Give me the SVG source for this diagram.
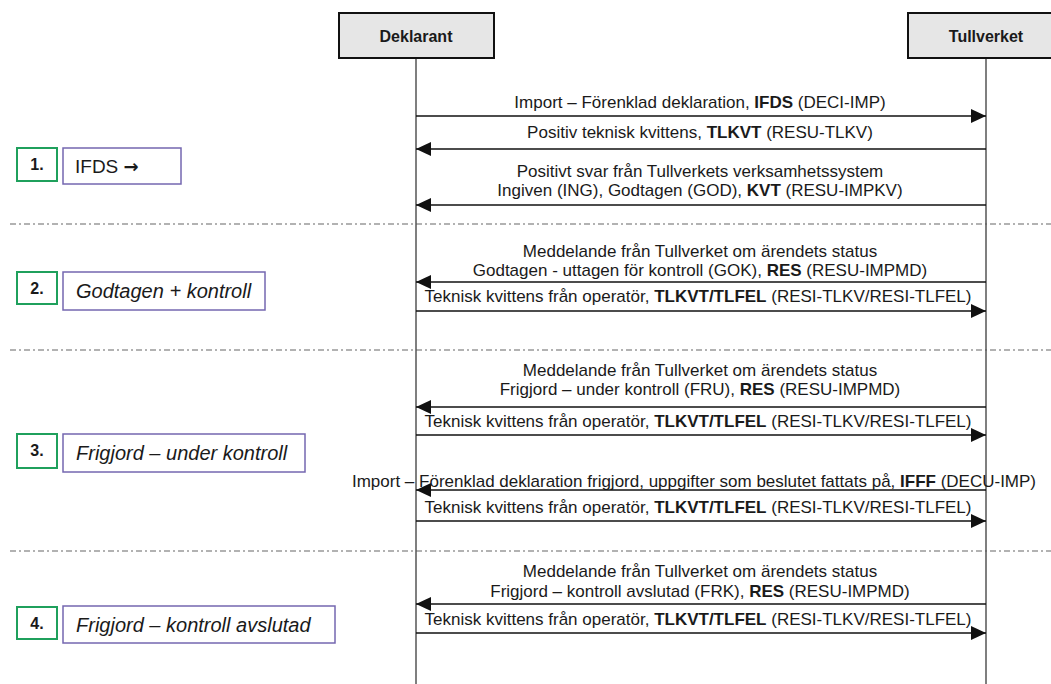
<svg xmlns="http://www.w3.org/2000/svg" width="1051" height="684" viewBox="0 0 1051 684">
<style>
.hdr{fill:#e6e6e6;stroke:#111;stroke-width:2}
.hdrt{font-family:"Liberation Sans",Arial,sans-serif;font-size:16px;font-weight:bold;fill:#1a1a1a;text-anchor:middle}
.life{stroke:#555;stroke-width:1.5;fill:none}
.msg{stroke:#111;stroke-width:1.5;fill:none}
.mt{font-family:"Liberation Sans",Arial,sans-serif;font-size:17px;fill:#1a1a1a;text-anchor:middle}
.b{font-weight:bold}
.sep{stroke:#666;stroke-width:1.2;stroke-dasharray:6 3 2 3;fill:none}
.num{fill:#fff;stroke:#1fa05c;stroke-width:2}
.numt{font-family:"Liberation Sans",Arial,sans-serif;font-size:16px;font-weight:bold;fill:#1a1a1a;text-anchor:middle}
.lbl{fill:#fff;stroke:#7467b0;stroke-width:1.5}
.lblt{font-family:"Liberation Sans",Arial,sans-serif;font-size:20px;font-style:italic;fill:#1a1a1a}
</style>
<defs>
<marker id="ah" markerWidth="15" markerHeight="14" refX="15" refY="7" orient="auto" markerUnits="userSpaceOnUse">
<path d="M0,0 L15,7 L0,14 Z" fill="#111"/>
</marker>
</defs>
<rect width="1051" height="684" fill="#fff"/>

<g id="separators">
<line class="sep" x1="10" y1="224" x2="1051" y2="224"/>
<line class="sep" x1="10" y1="350" x2="1051" y2="350"/>
<line class="sep" x1="10" y1="551" x2="1051" y2="551"/>
</g>

<g id="deklarant">
<line class="life" x1="416" y1="58" x2="416" y2="684"/>
<rect class="hdr" x="339" y="13" width="155" height="45"/>
<text class="hdrt" x="416" y="42">Deklarant</text>
</g>
<g id="tullverket">
<line class="life" x1="986" y1="58" x2="986" y2="684"/>
<rect class="hdr" x="908" y="13" width="160" height="45"/>
<text class="hdrt" x="986" y="42">Tullverket</text>
</g>

<g id="step1">
<rect class="num" x="17" y="148" width="40" height="33"/>
<text class="numt" x="37" y="170">1.</text>
<rect class="lbl" x="63" y="148" width="118" height="36"/>
<text class="lblt" x="75" y="173" style="font-style:normal;font-size:19px">IFDS <tspan style="font-family:'DejaVu Sans',sans-serif;font-weight:bold;font-size:18px">→</tspan></text>
</g>
<g id="step2">
<rect class="num" x="17" y="272" width="40" height="32"/>
<text class="numt" x="37" y="294">2.</text>
<rect class="lbl" x="63" y="272" width="202" height="38"/>
<text class="lblt" x="76" y="298">Godtagen + kontroll</text>
</g>
<g id="step3">
<rect class="num" x="17" y="434" width="40" height="34"/>
<text class="numt" x="37" y="456">3.</text>
<rect class="lbl" x="63" y="434" width="242" height="38"/>
<text class="lblt" x="76" y="460">Frigjord – under kontroll</text>
</g>
<g id="step4">
<rect class="num" x="17" y="607" width="40" height="32"/>
<text class="numt" x="37" y="629">4.</text>
<rect class="lbl" x="63" y="606" width="272" height="37"/>
<text class="lblt" x="76" y="632">Frigjord – kontroll avslutad</text>
</g>

<g id="connectors">
<line class="msg" x1="416" y1="116" x2="986" y2="116" marker-end="url(#ah)"/>
<line class="msg" x1="986" y1="149" x2="416" y2="149" marker-end="url(#ah)"/>
<line class="msg" x1="986" y1="205" x2="416" y2="205" marker-end="url(#ah)"/>
<line class="msg" x1="986" y1="282" x2="416" y2="282" marker-end="url(#ah)"/>
<line class="msg" x1="416" y1="311" x2="986" y2="311" marker-end="url(#ah)"/>
<line class="msg" x1="986" y1="407" x2="416" y2="407" marker-end="url(#ah)"/>
<line class="msg" x1="416" y1="435" x2="986" y2="435" marker-end="url(#ah)"/>
<line class="msg" x1="986" y1="490" x2="416" y2="490" marker-end="url(#ah)"/>
<line class="msg" x1="416" y1="521" x2="986" y2="521" marker-end="url(#ah)"/>
<line class="msg" x1="986" y1="604" x2="416" y2="604" marker-end="url(#ah)"/>
<line class="msg" x1="416" y1="633" x2="986" y2="633" marker-end="url(#ah)"/>
</g>

<g id="labels">
<text class="mt" x="700" y="108">Import – Förenklad deklaration, <tspan class="b">IFDS</tspan> (DECI-IMP)</text>
<text class="mt" x="700" y="138">Positiv teknisk kvittens, <tspan class="b">TLKVT</tspan> (RESU-TLKV)</text>
<text class="mt" x="700" y="177">Positivt svar från Tullverkets verksamhetssystem</text>
<text class="mt" x="700" y="196">Ingiven (ING), Godtagen (GOD), <tspan class="b">KVT</tspan> (RESU-IMPKV)</text>
<text class="mt" x="700" y="257">Meddelande från Tullverket om ärendets status</text>
<text class="mt" x="700" y="276">Godtagen - uttagen för kontroll (GOK), <tspan class="b">RES</tspan> (RESU-IMPMD)</text>
<text class="mt" x="698" y="302">Teknisk kvittens från operatör, <tspan class="b">TLKVT/TLFEL</tspan> (RESI-TLKV/RESI-TLFEL)</text>
<text class="mt" x="700" y="376">Meddelande från Tullverket om ärendets status</text>
<text class="mt" x="700" y="395">Frigjord – under kontroll (FRU), <tspan class="b">RES</tspan> (RESU-IMPMD)</text>
<text class="mt" x="698" y="427">Teknisk kvittens från operatör, <tspan class="b">TLKVT/TLFEL</tspan> (RESI-TLKV/RESI-TLFEL)</text>
<text class="mt" x="694" y="487">Import – Förenklad deklaration frigjord, uppgifter som beslutet fattats på, <tspan class="b">IFFF</tspan> (DECU-IMP)</text>
<text class="mt" x="698" y="513">Teknisk kvittens från operatör, <tspan class="b">TLKVT/TLFEL</tspan> (RESI-TLKV/RESI-TLFEL)</text>
<text class="mt" x="700" y="577">Meddelande från Tullverket om ärendets status</text>
<text class="mt" x="700" y="597">Frigjord – kontroll avslutad (FRK), <tspan class="b">RES</tspan> (RESU-IMPMD)</text>
<text class="mt" x="698" y="625">Teknisk kvittens från operatör, <tspan class="b">TLKVT/TLFEL</tspan> (RESI-TLKV/RESI-TLFEL)</text>
</g>
</svg>
